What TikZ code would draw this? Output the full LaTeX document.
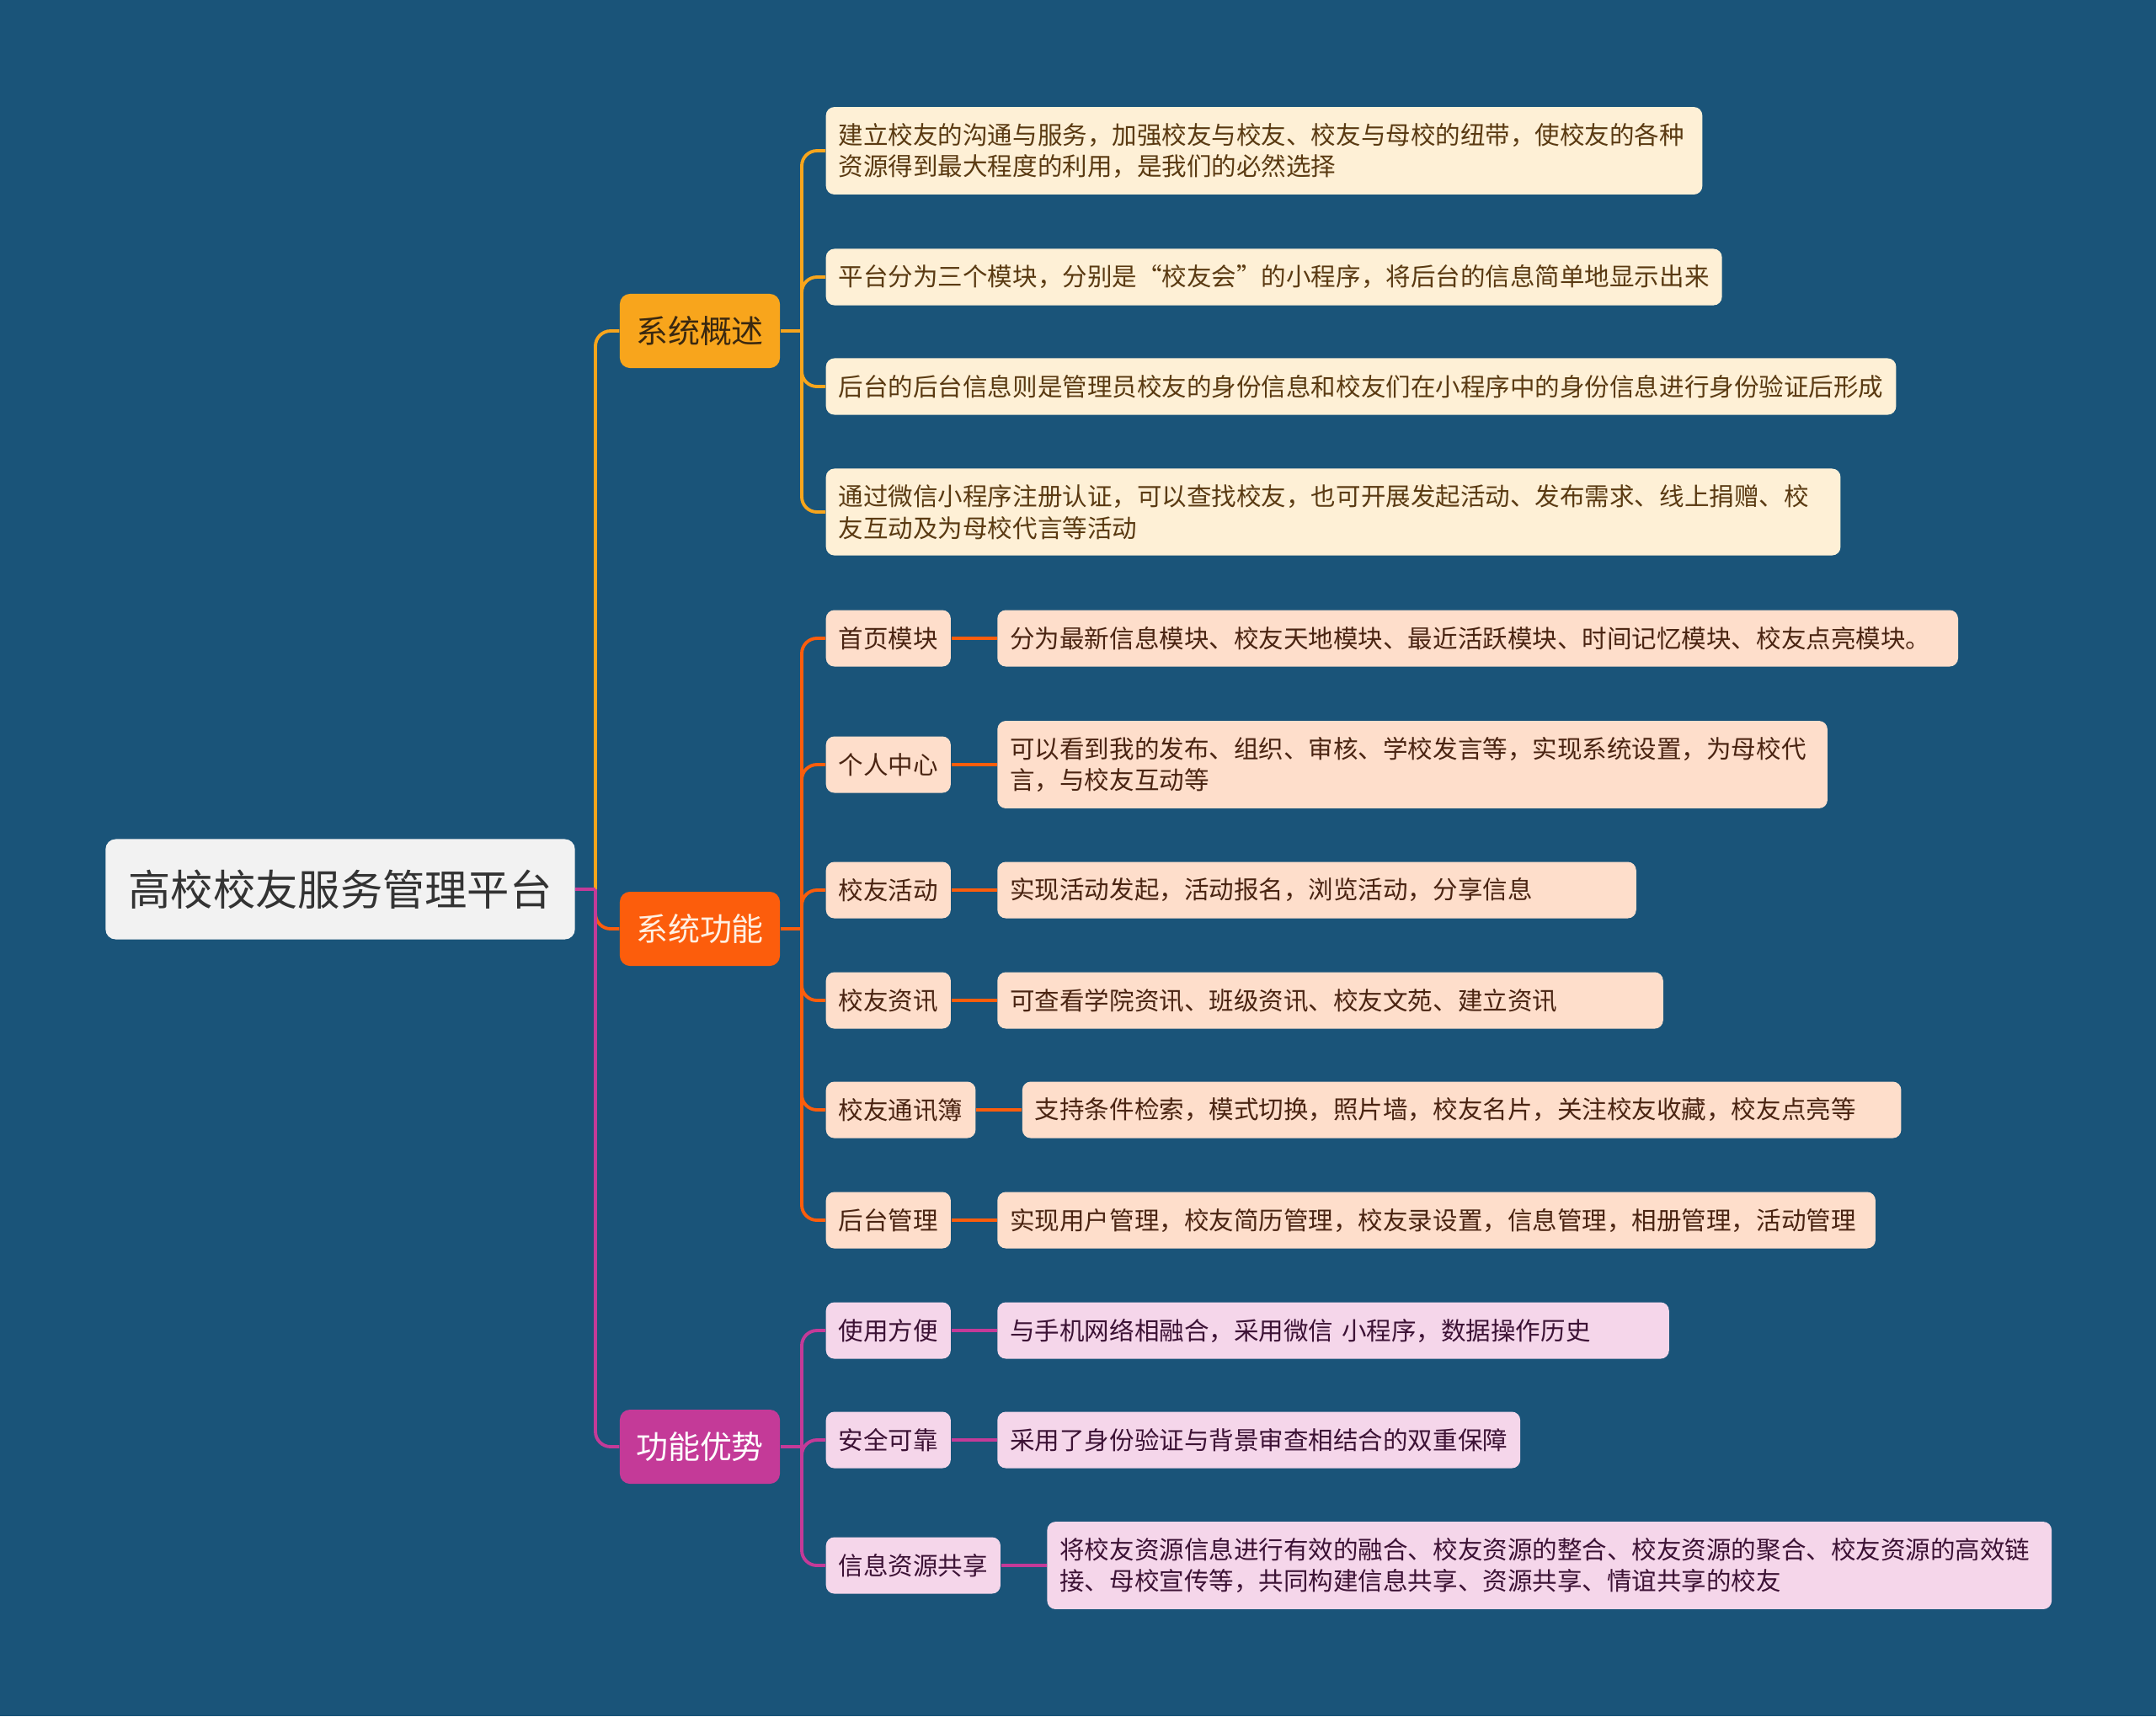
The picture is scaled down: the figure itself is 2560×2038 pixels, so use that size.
\documentclass[tikz,border=0pt]{standalone}
\usepackage{fontspec}
\setmainfont{Noto Sans CJK SC}
\usetikzlibrary{positioning}
\definecolor{bgblue}{HTML}{1A5479}
\definecolor{amber}{HTML}{F8A51C}
\definecolor{flame}{HTML}{FC5D0C}
\definecolor{orchid}{HTML}{C43A98}
\definecolor{amberleaf}{HTML}{FEF0D6}
\definecolor{flameleaf}{HTML}{FEDECB}
\definecolor{orchidleaf}{HTML}{F5D6EA}
\definecolor{rootfill}{HTML}{F2F2F2}
\definecolor{ink}{HTML}{333333}
\definecolor{amberink}{HTML}{5A3A12}
\definecolor{flameink}{HTML}{4A2412}
\definecolor{orchidink}{HTML}{3C1235}
\definecolor{topicink}{HTML}{3A2810}
\definecolor{flamelight}{HTML}{FFF0E2}
\tikzset{
  rootbox/.style={
    rectangle, rounded corners=0.12cm, fill=rootfill, text=ink,
    font=\fontsize{14.3}{17}\selectfont,
    minimum width=5.57cm, minimum height=1.19cm, inner sep=0pt
  },
  topicbox/.style={
    rectangle, rounded corners=0.12cm, fill=#1,
    font=\fontsize{10.8}{13}\selectfont,
    minimum width=1.9cm, minimum height=0.88cm, inner sep=0pt
  },
  topicbox/.default=amber,
  leafbox/.style={
    rectangle, rounded corners=0.1cm, fill=#1,
    font=\fontsize{8.4}{10.7}\selectfont, align=left,
    inner xsep=0.15cm, inner ysep=0.19cm, minimum height=0.67cm
  },
  leafbox/.default=amberleaf,
  branch/.style={
    draw=#1, line width=1.1pt, rounded corners=0.18cm
  },
  branch/.default=amber,
}
\begin{document}
\begin{tikzpicture}[x=0.01cm, y=-0.01cm]
\fill[bgblue] (0,0) rectangle (2560,2038);
\useasboundingbox (0,0) rectangle (2560,2038);

% Root and hubs
\node[rootbox] (root) at (404,1056) {高校校友服务管理平台};
\coordinate (root-hub) at (707,1056);

% Topics
\node[topicbox=amber, text=topicink] (overview) at (831,393) {系统概述};
\node[topicbox=flame, text=flamelight] (function) at (831,1103) {系统功能};
\node[topicbox=orchid, text=white] (advantage) at (831,1718) {功能优势};
\coordinate (overview-hub) at (952,393);
\coordinate (function-hub) at (952,1103);
\coordinate (advantage-hub) at (952,1718);

% System overview
\node[leafbox=amberleaf, text=amberink, anchor=west, text width=10.1cm] (ov-1) at (980,179)
  {建立校友的沟通与服务，加强校友与校友、校友与母校的纽带，使校友的各种\\资源得到最大程度的利用，是我们的必然选择};
\node[leafbox=amberleaf, text=amberink, anchor=west] (ov-2) at (980,329)
  {平台分为三个模块，分别是“校友会”的小程序，将后台的信息简单地显示出来};
\node[leafbox=amberleaf, text=amberink, anchor=west] (ov-3) at (980,459)
  {后台的后台信息则是管理员校友的身份信息和校友们在小程序中的身份信息进行身份验证后形成};
\node[leafbox=amberleaf, text=amberink, anchor=west, text width=11.74cm] (ov-4) at (980,608)
  {通过微信小程序注册认证，可以查找校友，也可开展发起活动、发布需求、线上捐赠、校\\友互动及为母校代言等活动};

% System functions
\node[leafbox=flameleaf, text=flameink, anchor=west] (fn-1) at (980,758) {首页模块};
\node[leafbox=flameleaf, text=flameink, anchor=west] (fn-2) at (980,908) {个人中心};
\node[leafbox=flameleaf, text=flameink, anchor=west] (fn-3) at (980,1057) {校友活动};
\node[leafbox=flameleaf, text=flameink, anchor=west] (fn-4) at (980,1188) {校友资讯};
\node[leafbox=flameleaf, text=flameink, anchor=west] (fn-5) at (980,1318) {校友通讯簿};
\node[leafbox=flameleaf, text=flameink, anchor=west] (fn-6) at (980,1449) {后台管理};
\node[leafbox=flameleaf, text=flameink, right=0.54cm of fn-1, text width=11.1cm] (fn-1-note)
  {分为最新信息模块、校友天地模块、最近活跃模块、时间记忆模块、校友点亮模块。};
\node[leafbox=flameleaf, text=flameink, right=0.54cm of fn-2, text width=9.55cm] (fn-2-note)
  {可以看到我的发布、组织、审核、学校发言等，实现系统设置，为母校代\\言，与校友互动等};
\node[leafbox=flameleaf, text=flameink, right=0.54cm of fn-3, text width=7.28cm] (fn-3-note)
  {实现活动发起，活动报名，浏览活动，分享信息};
\node[leafbox=flameleaf, text=flameink, right=0.54cm of fn-4, text width=7.6cm] (fn-4-note)
  {可查看学院资讯、班级资讯、校友文苑、建立资讯};
\node[leafbox=flameleaf, text=flameink, right=0.54cm of fn-5, text width=10.13cm] (fn-5-note)
  {支持条件检索，模式切换，照片墙，校友名片，关注校友收藏，校友点亮等};
\node[leafbox=flameleaf, text=flameink, right=0.54cm of fn-6, text width=10.12cm] (fn-6-note)
  {实现用户管理，校友简历管理，校友录设置，信息管理，相册管理，活动管理};

% Advantages
\node[leafbox=orchidleaf, text=orchidink, anchor=west] (adv-1) at (980,1580) {使用方便};
\node[leafbox=orchidleaf, text=orchidink, anchor=west] (adv-2) at (980,1710) {安全可靠};
\node[leafbox=orchidleaf, text=orchidink, anchor=west] (adv-3) at (980,1859) {信息资源共享};
\node[leafbox=orchidleaf, text=orchidink, right=0.54cm of adv-1, text width=7.67cm] (adv-1-note)
  {与手机网络相融合，采用微信 小程序，数据操作历史};
\node[leafbox=orchidleaf, text=orchidink, right=0.54cm of adv-2] (adv-2-note)
  {采用了身份验证与背景审查相结合的双重保障};
\node[leafbox=orchidleaf, text=orchidink, right=0.54cm of adv-3, text width=11.62cm] (adv-3-note)
  {将校友资源信息进行有效的融合、校友资源的整合、校友资源的聚合、校友资源的高效链\\接、母校宣传等，共同构建信息共享、资源共享、情谊共享的校友};

% Connectors
\draw[branch=amber] (root-hub) |- (overview.west);
\draw[branch=flame] (root-hub) |- (function.west);
\draw[branch=orchid] (root-hub) |- (advantage.west);
\draw[branch=orchid] (root.east) -- (root-hub);

\draw[branch=amber] (overview.east) -- (overview-hub);
\foreach \n in {ov-1,ov-2,ov-3,ov-4}
  \draw[branch=amber] (overview-hub) |- (\n.west);

\draw[branch=flame] (function.east) -- (function-hub);
\foreach \n in {fn-1,fn-2,fn-3,fn-4,fn-5,fn-6} {
  \draw[branch=flame] (function-hub) |- (\n.west);
  \draw[branch=flame] (\n.east) -- (\n-note.west);
}

\draw[branch=orchid] (advantage.east) -- (advantage-hub);
\foreach \n in {adv-1,adv-2,adv-3} {
  \draw[branch=orchid] (advantage-hub) |- (\n.west);
  \draw[branch=orchid] (\n.east) -- (\n-note.west);
}

\end{tikzpicture}
\end{document}
